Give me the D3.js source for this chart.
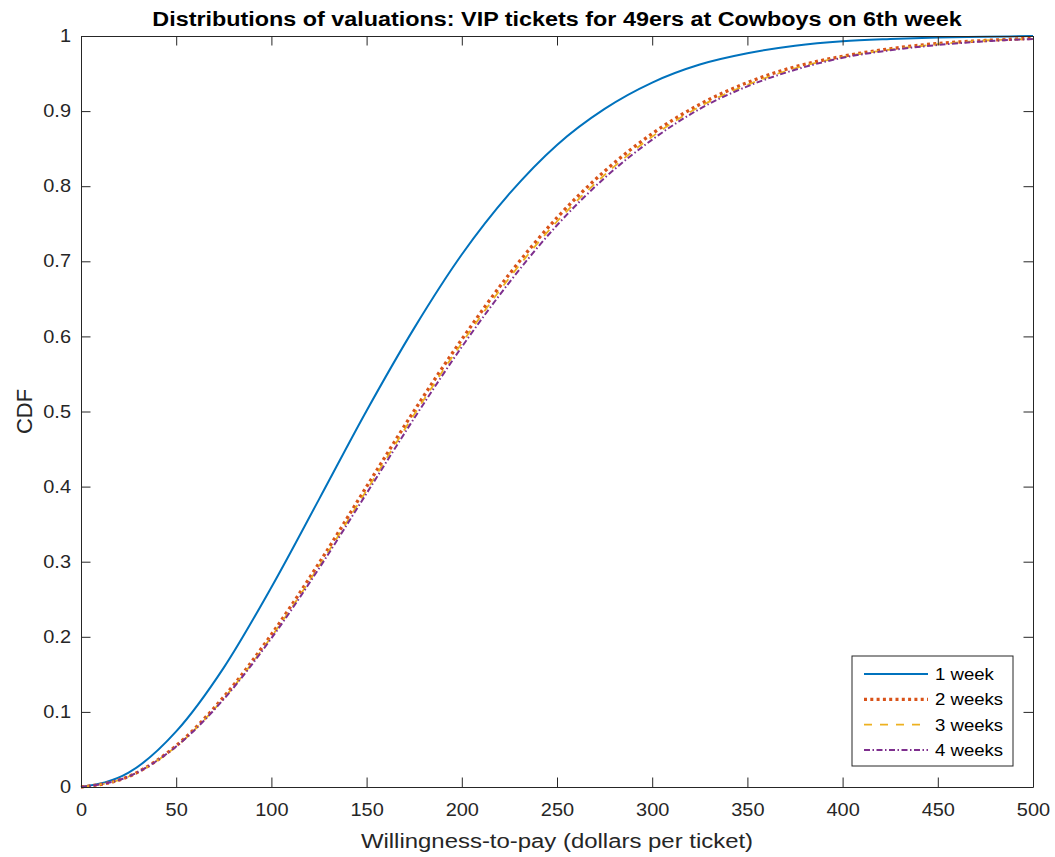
<!DOCTYPE html>
<html>
<head>
<meta charset="utf-8">
<script src="https://cdn.jsdelivr.net/npm/d3@7"></script>
<style>
  body { margin: 0; background: #fff; }
  svg text { font-family: "Liberation Sans", Arial, sans-serif; fill: #262626; }
</style>
</head>
<body>
<div id="graph-container"></div>
<script>
// Willingness-to-pay grid (dollars per ticket)
const wtp = [0, 25, 50, 75, 100, 125, 150, 175, 200, 225, 250, 275, 300, 325, 350, 375, 400, 425, 450, 475, 500];

// CDF values, one array per horizon
const week1  = [0, 0.019, 0.074, 0.159, 0.266, 0.383, 0.501, 0.611, 0.709, 0.790, 0.855, 0.903, 0.938, 0.962, 0.977, 0.987, 0.993, 0.996, 0.998, 0.999, 1.000];
const weeks2 = [0, 0.014, 0.055, 0.120, 0.203, 0.298, 0.400, 0.501, 0.596, 0.683, 0.758, 0.820, 0.870, 0.909, 0.938, 0.959, 0.973, 0.983, 0.990, 0.994, 0.997];
const weeks3 = [0, 0.014, 0.054, 0.118, 0.200, 0.294, 0.395, 0.496, 0.591, 0.678, 0.753, 0.815, 0.866, 0.906, 0.935, 0.957, 0.972, 0.982, 0.989, 0.994, 0.996];
const weeks4 = [0, 0.014, 0.054, 0.117, 0.198, 0.291, 0.391, 0.491, 0.586, 0.672, 0.748, 0.811, 0.862, 0.903, 0.933, 0.955, 0.971, 0.981, 0.988, 0.993, 0.996];

const seriesNames = ["1 week", "2 weeks", "3 weeks", "4 weeks"];
const xTicks = [0, 50, 100, 150, 200, 250, 300, 350, 400, 450, 500];
const yTicks = [0, 0.1, 0.2, 0.3, 0.4, 0.5, 0.6, 0.7, 0.8, 0.9, 1];

// Chart dimensions
const W = 1055, H = 857;
const margin = { top: 36, right: 22, bottom: 70, left: 81 };
const width = W - margin.left - margin.right;
const height = H - margin.top - margin.bottom;

// the reference text is a little wider than Liberation Sans
const stretch = 1.14;

const x = d3.scaleLinear().domain([0, 500]).range([0, width]);
const y = d3.scaleLinear().domain([0, 1]).range([height, 0]);

const svg = d3.select("#graph-container")
  .append("svg")
    .attr("width", W)
    .attr("height", H);

const g = svg.append("g")
    .attr("transform", `translate(${margin.left},${margin.top})`);

// Line styles (MATLAB default colour order)
const styles = [
  { color: "#0072BD", width: 2,   dash: null },
  { color: "#D95319", width: 3.3, dash: "3,3.3" },
  { color: "#EDB120", width: 1.8, dash: "8,8" },
  { color: "#7E2F8E", width: 2,   dash: "6,2.5,1.5,2.5" }
];
const allSeries = [week1, weeks2, weeks3, weeks4];

const line = d3.line()
  .x(d => x(d[0]))
  .y(d => y(d[1]))
  .curve(d3.curveMonotoneX);

g.append("defs").append("clipPath").attr("id", "clip")
  .append("rect").attr("x", -2).attr("y", -3).attr("width", width + 4).attr("height", height + 5);

const lines = g.append("g").attr("clip-path", "url(#clip)");
allSeries.forEach((vals, i) => {
  const s = styles[i];
  lines.append("path")
    .datum(wtp.map((w, j) => [w, vals[j]]))
    .attr("fill", "none")
    .attr("stroke", s.color)
    .attr("stroke-width", s.width)
    .attr("stroke-dasharray", s.dash)
    .attr("d", line);
});

// Axes: ticks pointing inward, box on all four sides
const tickLen = 9.5;
const axisColor = "#262626";

const xAxis = g.append("g")
  .attr("transform", `translate(0,${height})`)
  .call(d3.axisBottom(x).tickValues(xTicks).tickSizeInner(-tickLen).tickSizeOuter(0).tickPadding(17));
const yAxis = g.append("g")
  .call(d3.axisLeft(y).tickValues(yTicks).tickFormat(d3.format("~g")).tickSizeInner(-tickLen).tickSizeOuter(0));
const xTop = g.append("g")
  .call(d3.axisTop(x).tickValues(xTicks).tickSizeInner(-tickLen).tickSizeOuter(0).tickFormat(""));
const yRight = g.append("g")
  .attr("transform", `translate(${width},0)`)
  .call(d3.axisRight(y).tickValues(yTicks).tickSizeInner(-tickLen).tickSizeOuter(0).tickFormat(""));

[xAxis, yAxis, xTop, yRight].forEach(a => {
  a.selectAll("path").attr("stroke", axisColor).attr("stroke-width", 1);
  a.selectAll("line").attr("stroke", axisColor).attr("stroke-width", 1);
  a.selectAll("text").attr("font-size", 17.5).attr("fill", axisColor)
    .attr("font-family", "'Liberation Sans', Arial, sans-serif");
});
xAxis.selectAll("text").attr("transform", `scale(${stretch},1)`);
yAxis.selectAll("text").attr("x", 0).attr("transform", `translate(-10,0) scale(${stretch},1)`);

// Titles
svg.append("text")
  .attr("transform", `translate(${margin.left + width / 2},26) scale(${stretch},1)`)
  .attr("text-anchor", "middle")
  .attr("font-size", 20.5)
  .attr("font-weight", "bold")
  .style("fill", "#000")
  .text("Distributions of valuations: VIP tickets for 49ers at Cowboys on 6th week");

svg.append("text")
  .attr("transform", `translate(${margin.left + width / 2},848) scale(${stretch},1)`)
  .attr("text-anchor", "middle")
  .attr("font-size", 21)
  .text("Willingness-to-pay (dollars per ticket)");

svg.append("text")
  .attr("transform", `translate(32,${margin.top + height / 2}) rotate(-90)`)
  .attr("text-anchor", "middle")
  .attr("font-size", 22)
  .text("CDF");

// Legend
const lg = svg.append("g").attr("transform", "translate(852,656)");
lg.append("rect")
  .attr("width", 161).attr("height", 110)
  .attr("fill", "#fff").attr("stroke", axisColor).attr("stroke-width", 1);
seriesNames.forEach((name, i) => {
  const s = styles[i];
  const yy = 18 + i * 25.3;
  lg.append("line")
    .attr("x1", 12).attr("x2", 76).attr("y1", yy).attr("y2", yy)
    .attr("stroke", s.color).attr("stroke-width", s.width)
    .attr("stroke-dasharray", s.dash);
  lg.append("text")
    .attr("transform", `translate(83,${yy + 6}) scale(${stretch},1)`)
    .attr("font-size", 16.3)
    .style("fill", "#000")
    .text(name);
});
</script>
</body>
</html>
